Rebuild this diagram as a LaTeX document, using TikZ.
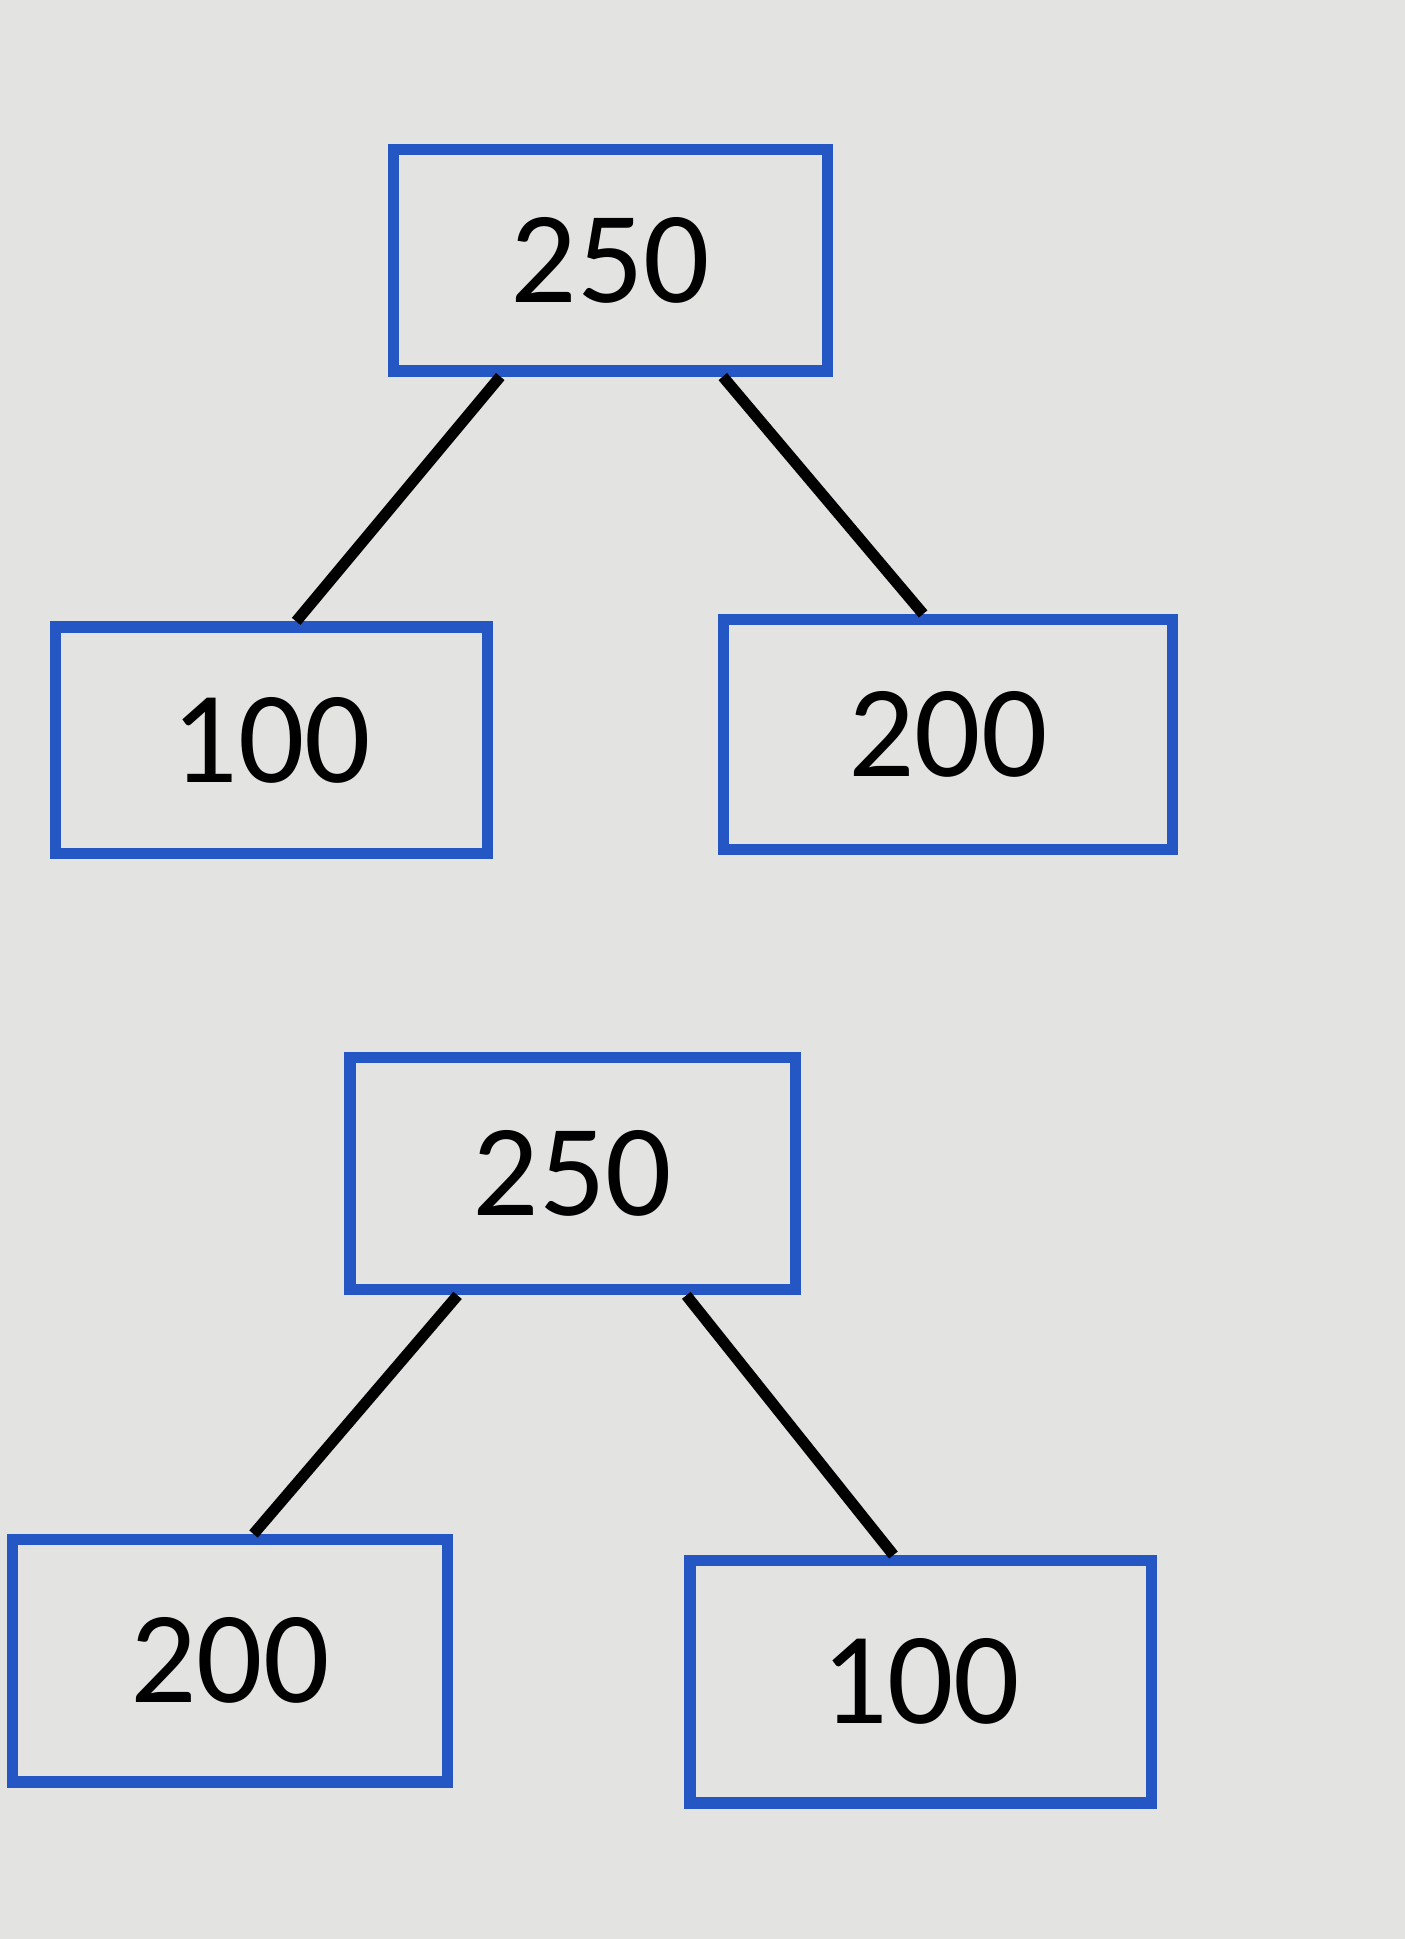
\documentclass[tikz,border=0pt]{standalone}
\usepackage{fontspec}
\setmainfont{Carlito}
\definecolor{boxblue}{HTML}{2457C4}
\definecolor{paper}{HTML}{E3E3E1}
\begin{document}
\begin{tikzpicture}[x=1pt,y=-1pt,
  numbox/.style={draw=boxblue,line width=9pt,inner sep=0pt,font=\fontsize{106}{120}\selectfont,text=black},
  conn/.style={line width=9pt,black}]
\fill[paper] (0,0) rectangle (1136,1568);
\useasboundingbox (0,0) rectangle (1136,1568);
% top tree
\node[numbox,minimum width=351pt,minimum height=179pt] (t) at (493.5,210.5) {250};
\node[numbox,minimum width=349pt,minimum height=183pt] (tl) at (219.5,598.5) {100};
\node[numbox,minimum width=363pt,minimum height=186pt] (tr) at (766.5,594) {200};
\draw[conn] ([xshift=-89pt]t.south) -- ([xshift=20pt]tl.north);
\draw[conn] ([xshift=91pt]t.south) -- ([xshift=-20pt]tr.north);
% bottom tree
\node[numbox,minimum width=360pt,minimum height=188pt] (b) at (463,949) {250};
\node[numbox,minimum width=352pt,minimum height=196pt] (bl) at (186,1343) {200};
\node[numbox,minimum width=373pt,minimum height=196pt] (br) at (744.5,1360) {100};
\draw[conn] ([xshift=-93pt]b.south) -- ([xshift=19pt]bl.north);
\draw[conn] ([xshift=92pt]b.south) -- ([xshift=-22pt]br.north);
\end{tikzpicture}
\end{document}
